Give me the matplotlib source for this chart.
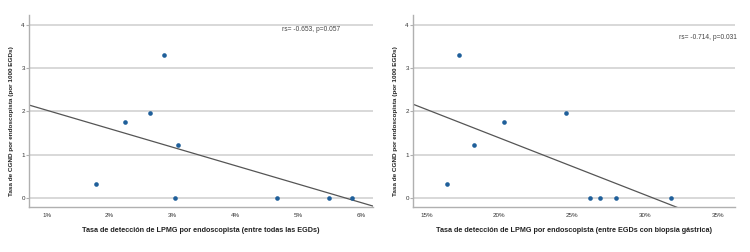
import numpy as np
import matplotlib.pyplot as plt
from matplotlib.ticker import FuncFormatter

# Left panel: detection rate among all EGDs (%)
lpmg_all = [1.79, 2.25, 2.64, 2.86, 3.08, 3.04, 4.66, 5.48, 5.84]
cgnd_all = [0.31, 1.75, 1.96, 3.29, 1.23, 0.0, 0.0, 0.0, 0.0]

# Right panel: detection rate among EGDs with gastric biopsy (%)
lpmg_biop = [16.39, 17.26, 18.24, 20.30, 24.58, 26.18, 26.87, 28.00, 31.78]
cgnd_biop = [0.31, 3.30, 1.23, 1.76, 1.96, 0.0, 0.0, 0.0, 0.0]

xticks_all = [1, 2, 3, 4, 5, 6]
xticks_biop = [15, 20, 25, 30, 35]
yticks = [0, 1, 2, 3, 4]

ylabel = 'Tasa de CGND por endoscopista (por 1000 EGDs)'
xlabel_all = 'Tasa de detección de LPMG por endoscopista (entre todas las EGDs)'
xlabel_biop = 'Tasa de detección de LPMG por endoscopista (entre EGDs con biopsia gástrica)'
stats_all = 'rs= -0.653, p=0.057'
stats_biop = 'rs= -0.714, p=0.031'

plt.rcParams['font.family'] = ['Liberation Sans', 'DejaVu Sans']

fig = plt.figure(figsize=(7.5, 2.52), dpi=100)
W, H = 750, 252

def panel(rect, x, y, xlim, xticks, xlabel, stats, stats_pos):
    l, t, r, b = rect
    ax = fig.add_axes([l / W, 1 - b / H, (r - l) / W, (b - t) / H])
    ax.set_xlim(*xlim)
    ax.set_ylim(-0.21, 4.22)
    ax.set_yticks(yticks)
    ax.set_xticks(xticks)
    ax.xaxis.set_major_formatter(FuncFormatter(lambda v, p: f'{v:.0f}%'))
    ax.grid(axis='y', color='#d6d6d6', linewidth=1.3)
    ax.set_axisbelow(True)
    for s in ['top', 'right']:
        ax.spines[s].set_visible(False)
    for s in ['left', 'bottom']:
        ax.spines[s].set_color('#b0b0b0')
        ax.spines[s].set_linewidth(1.0)
    ax.tick_params(axis='both', labelsize=4.5, colors='#b0b0b0', labelcolor='#333333',
                   length=2, width=0.8, pad=1)
    ax.tick_params(axis='x', length=0, pad=4)

    # linear fit line across the whole x range
    k, c = np.polyfit(x, y, 1)
    xs = np.array(xlim)
    ax.plot(xs, k * xs + c, color='#555555', linewidth=0.9, zorder=2)
    ax.scatter(x, y, s=11, color='#1f5f9a', zorder=3, linewidths=0)

    ax.set_xlabel(xlabel, fontsize=5.2, fontweight='bold', color='#222222', labelpad=7)
    ax.set_ylabel(ylabel, fontsize=4.6, fontweight='bold', color='#222222')
    ax.yaxis.set_label_coords(-15.0 / (r - l), 0.445)
    ax.text(stats_pos[0], stats_pos[1], stats, transform=ax.transAxes,
            fontsize=4.8, color='#444444', ha='left', va='center')
    return ax

panel((29, 15, 373, 207), lpmg_all, cgnd_all, (0.72, 6.18), xticks_all,
      xlabel_all, stats_all, (0.735, 0.925))
panel((413, 15, 735, 207), lpmg_biop, cgnd_biop, (14.08, 36.15), xticks_biop,
      xlabel_biop, stats_biop, (0.825, 0.885))

fig.savefig('out.png', dpi=100)
